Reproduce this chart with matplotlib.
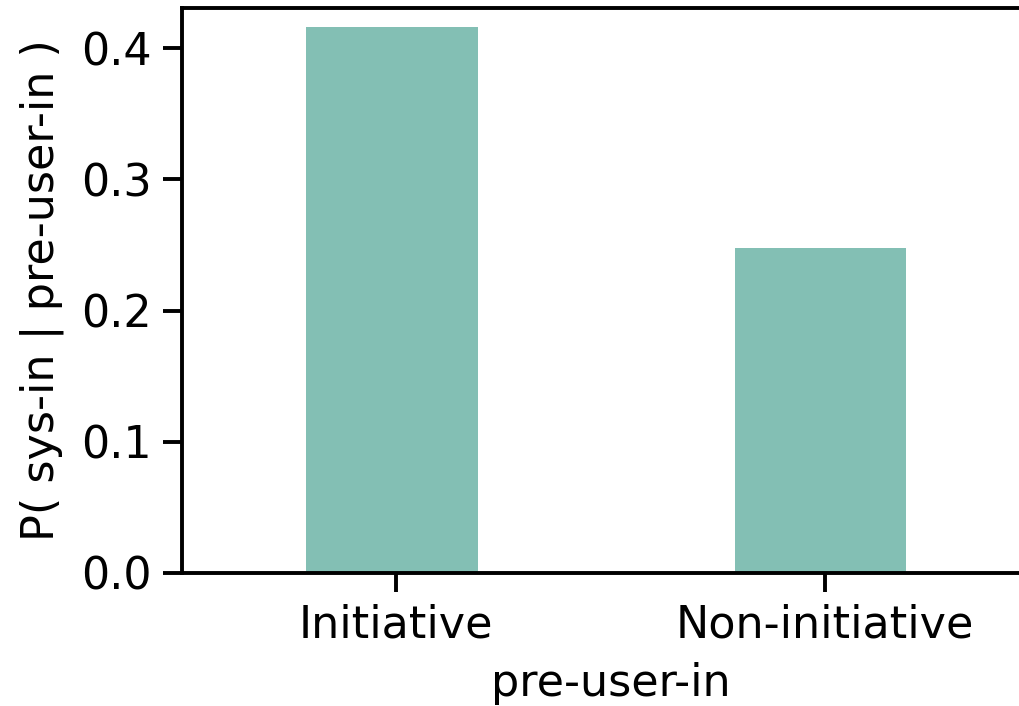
import matplotlib
matplotlib.use("Agg")
import matplotlib.pyplot as plt

categories = ["Initiative", "Non-initiative"]
probabilities = [0.416, 0.248]
y_ticks = [0.0, 0.1, 0.2, 0.3, 0.4]

bar_color = "#83bfb4"
font_size = 32

fig = plt.figure(figsize=(10.19, 7.06), dpi=100)
ax = fig.add_axes([182 / 1019, 1 - 573 / 706, (1039 - 182) / 1019, (573 - 8) / 706])

x = list(range(len(categories)))
ax.bar([i - 0.01 for i in x], probabilities, width=0.4, color=bar_color)

ax.set_xlim(-0.5, 1.5)
ax.set_ylim(0, 0.4305)
ax.set_xticks(x)
ax.set_xticklabels(categories)
ax.set_yticks(y_ticks)
ax.set_yticklabels([f"{v:.1f}" for v in y_ticks])

for s in ax.spines.values():
    s.set_linewidth(2.8)
ax.tick_params(axis="both", labelsize=font_size, width=2.8, length=14, pad=8)
ax.set_xlabel("pre-user-in", fontsize=font_size, labelpad=11)
ax.set_ylabel("P( sys-in | pre-user-in )", fontsize=font_size, labelpad=12)

fig.savefig("out.png", dpi=100)
